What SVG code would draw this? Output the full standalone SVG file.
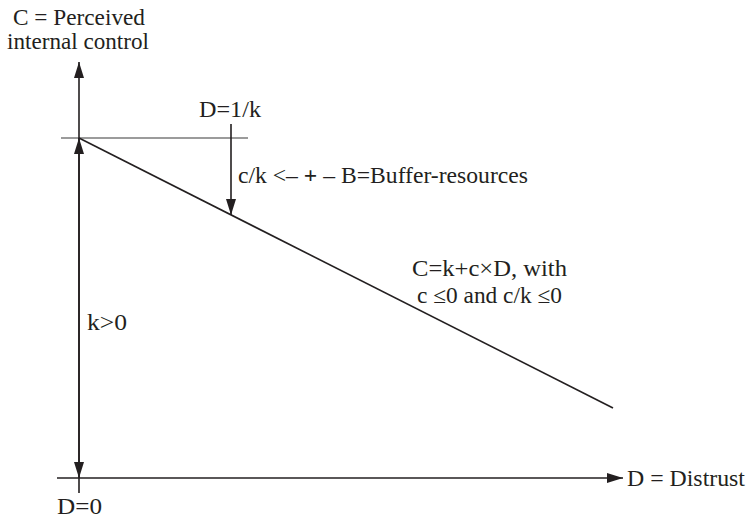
<svg xmlns="http://www.w3.org/2000/svg" width="748" height="521" viewBox="0 0 748 521">
<style>
text{font-family:"Liberation Serif","Times New Roman",serif;font-size:22.5px;fill:#231f20}
.ax{stroke:#231f20;stroke-width:1.6;fill:none}
.gr{stroke:#7a7a7a;stroke-width:1.6;fill:none}
</style>
<defs>
<marker id="ah" markerWidth="16" markerHeight="10" refX="16" refY="5" orient="auto" markerUnits="userSpaceOnUse">
<path d="M0,0 L16,5 L0,10 Z" fill="#231f20"/>
</marker>
</defs>
<rect width="748" height="521" fill="#fff"/>
<g id="connectors">
<line class="gr" x1="61" y1="138" x2="248" y2="138"/>
<line class="ax" x1="79" y1="493" x2="79" y2="62" marker-end="url(#ah)"/>
<line class="ax" x1="57" y1="478" x2="623" y2="478" marker-end="url(#ah)"/>
<line class="ax" x1="79" y1="300" x2="79" y2="138" marker-end="url(#ah)"/>
<line class="ax" x1="79" y1="300" x2="79" y2="478" marker-end="url(#ah)"/>
<line class="ax" x1="79" y1="138" x2="613" y2="408"/>
<line class="ax" x1="231" y1="124" x2="231" y2="215" marker-end="url(#ah)"/>
</g>
<g id="label-c-axis">
<text x="13" y="25" textLength="132" lengthAdjust="spacingAndGlyphs">C = Perceived</text>
<text x="7" y="49" textLength="142" lengthAdjust="spacingAndGlyphs">internal control</text>
</g>
<g id="label-d1k"><text x="199" y="117" textLength="62" lengthAdjust="spacingAndGlyphs">D=1/k</text></g>
<g id="label-buffer"><text x="238" y="183" textLength="290" lengthAdjust="spacingAndGlyphs">c/k &lt;– <tspan font-weight="bold">+</tspan> – B=Buffer-resources</text></g>
<g id="label-eq">
<text x="412" y="276" textLength="155" lengthAdjust="spacingAndGlyphs">C=k+c×D, with</text>
<text x="417" y="303" textLength="145" lengthAdjust="spacingAndGlyphs">c ≤0 and c/k ≤0</text>
</g>
<g id="label-k"><text x="87" y="330" textLength="40" lengthAdjust="spacingAndGlyphs">k&gt;0</text></g>
<g id="label-d0"><text x="57" y="514" textLength="45" lengthAdjust="spacingAndGlyphs">D=0</text></g>
<g id="label-d-axis"><text x="627" y="486" textLength="118" lengthAdjust="spacingAndGlyphs">D = Distrust</text></g>
</svg>
